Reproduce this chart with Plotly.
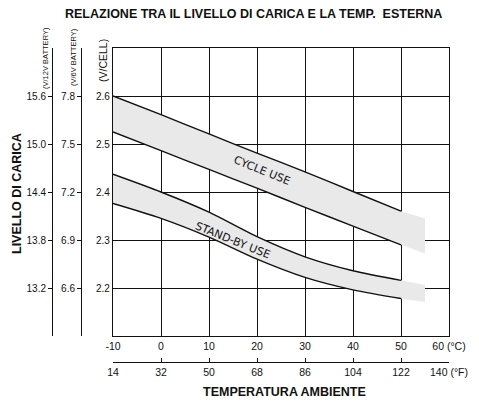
import plotly.graph_objects as go

# ---- data ----
temps_c = [-10, 0, 10, 20, 30, 40, 50, 55]
cycle_upper = [2.600, 2.561, 2.521, 2.481, 2.442, 2.401, 2.360, 2.345]
cycle_lower = [2.525, 2.486, 2.447, 2.408, 2.368, 2.329, 2.290, 2.272]
standby_upper = [2.437, 2.400, 2.358, 2.307, 2.265, 2.236, 2.216, 2.206]
standby_lower = [2.376, 2.345, 2.306, 2.260, 2.222, 2.196, 2.178, 2.171]

c_ticks = [-10, 0, 10, 20, 30, 40, 50, 60]
c_ticktext = ["-10", "0", "10", "20", "30", "40", "50", "60 (°C)"]
f_ticks = [14, 32, 50, 68, 86, 104, 122, 140]
f_ticktext = ["14", "32", "50", "68", "86", "104", "122", "140 (°F)"]
cell_ticks = [2.2, 2.3, 2.4, 2.5, 2.6]
cell_ticktext = ["2.2", "2.3", "2.4", "2.5", "2.6"]
v6_ticks = [6.6, 6.9, 7.2, 7.5, 7.8]
v6_ticktext = ["6.6", "6.9", "7.2", "7.5", "7.8"]
v12_ticks = [13.2, 13.8, 14.4, 15.0, 15.6]
v12_ticktext = ["13.2", "13.8", "14.4", "15.0", "15.6"]

SANS = "Liberation Sans, Arial, sans-serif"
BAND_FONT = "DejaVu Sans, sans-serif"
BAND_FILL = "#e9e9e9"
INK = "#111111"

fig = go.Figure()

def add_band(upper, lower, n_up, n_low):
    fig.add_trace(go.Scatter(x=temps_c, y=lower, mode="lines", line=dict(width=0, shape="spline", smoothing=0.8),
                             hoverinfo="skip", showlegend=False))
    fig.add_trace(go.Scatter(x=temps_c, y=upper, mode="lines", fill="tonexty", fillcolor=BAND_FILL,
                             line=dict(width=0, shape="spline", smoothing=0.8),
                             hoverinfo="skip", showlegend=False))
    return (upper[:n_up], lower[:n_low])

edges = [add_band(cycle_upper, cycle_lower, 7, 7), add_band(standby_upper, standby_lower, 7, 7)]
for up, low in edges:
    for ys in (up, low):
        fig.add_trace(go.Scatter(x=temps_c[:len(ys)], y=ys, mode="lines",
                                 line=dict(color=INK, width=1.4, shape="spline", smoothing=0.8),
                                 hoverinfo="skip", showlegend=False))

# invisible traces binding the auxiliary scales
fig.add_trace(go.Scatter(x=f_ticks, y=[None] * len(f_ticks), xaxis="x2", yaxis="y4", mode="lines",
                         showlegend=False, hoverinfo="skip"))
fig.add_trace(go.Scatter(x=[None] * len(v12_ticks), y=v12_ticks, xaxis="x3", yaxis="y3", mode="lines",
                         showlegend=False, hoverinfo="skip"))
fig.add_trace(go.Scatter(x=[None] * len(v6_ticks), y=v6_ticks, xaxis="x4", yaxis="y2", mode="lines",
                         showlegend=False, hoverinfo="skip"))

# page body has an 8px margin -> figure is 8px smaller, reference coords shifted by 8
W, H = 471, 393
ML, MR, MT, MB = 32, 30, 40, 20
PW, PH = W - ML - MR, H - MT - MB
OFF = 8

def px(xr):  # reference pixel x -> paper
    return (xr - OFF - ML) / PW

def py(yr):  # reference pixel y -> paper
    return (H - MB - (yr - OFF)) / PH

tick_font = dict(family=SANS, size=10, color=INK)
bottom_font = dict(family=SANS, size=10.5, color=INK)
ydom = [py(336), 1]
xdom = [px(113), 1]

fig.update_layout(
    width=W, height=H,
    margin=dict(l=ML, r=MR, t=MT, b=MB),
    paper_bgcolor="white", plot_bgcolor="white",
    xaxis=dict(domain=xdom, range=[-10, 60], tickvals=c_ticks, ticktext=c_ticktext,
               showgrid=True, gridcolor=INK, gridwidth=1, showline=True, linecolor=INK,
               linewidth=1.2, mirror=True, ticks="", tickfont=bottom_font, zeroline=False),
    yaxis=dict(domain=ydom, range=[2.1, 2.7], tickvals=cell_ticks, ticktext=cell_ticktext,
               showgrid=True, gridcolor=INK, gridwidth=1, showline=True, linecolor=INK,
               linewidth=1.2, mirror=True, ticks="", tickfont=tick_font, zeroline=False),
    # Fahrenheit scale
    xaxis2=dict(domain=xdom, anchor="y4", range=[14, 140], tickvals=f_ticks, ticktext=f_ticktext,
                showgrid=False, showline=True, linecolor=INK, linewidth=1, ticks="inside",
                ticklen=4, tickcolor=INK, tickfont=bottom_font, zeroline=False),
    yaxis4=dict(domain=[py(362), py(362) + 0.002], anchor="x2", visible=False, range=[0, 1]),
    # 12V battery scale
    yaxis3=dict(domain=ydom, anchor="x3", range=[12.6, 16.2], tickvals=v12_ticks,
                ticktext=v12_ticktext, showgrid=False, showline=True, linecolor=INK, linewidth=1,
                ticks="outside", ticklen=4, tickcolor=INK, tickfont=tick_font, zeroline=False),
    xaxis3=dict(domain=[px(53), px(53) + 0.002], anchor="y3", visible=False, range=[0, 1]),
    # 6V battery scale
    yaxis2=dict(domain=ydom, anchor="x4", range=[6.3, 8.1], tickvals=v6_ticks,
                ticktext=v6_ticktext, showgrid=False, showline=True, linecolor=INK, linewidth=1,
                ticks="outside", ticklen=4, tickcolor=INK, tickfont=tick_font, zeroline=False),
    xaxis4=dict(domain=[px(82), px(82) + 0.002], anchor="y2", visible=False, range=[0, 1]),
)

def ann(text, x, y, size, bold=False, angle=0, family=SANS, xref="paper", yref="paper"):
    fig.add_annotation(text=f"<b>{text}</b>" if bold else text, x=x, y=y, xref=xref, yref=yref,
                       showarrow=False, textangle=angle, xanchor="center", yanchor="middle",
                       font=dict(family=family, size=size, color=INK))

ann("RELAZIONE TRA IL LIVELLO DI CARICA E LA TEMP.  ESTERNA", px(253), py(14), 12.5, bold=True)
ann("LIVELLO DI CARICA", px(17), py(194), 12.5, bold=True, angle=-90)
ann("TEMPERATURA AMBIENTE", px(284), py(392), 12.5, bold=True)
ann("(V/12V BATTERY)", px(45), py(58), 7.5, angle=-90)
ann("(V/6V BATTERY)", px(74), py(57), 7.5, angle=-90)
ann("(V/CELL)", px(103), py(61), 10.5, angle=-90)
ann("CYCLE USE", 21.0, 2.444, 11, angle=22, family=BAND_FONT, xref="x", yref="y")
ann("STAND-BY USE", 15.0, 2.300, 11, angle=22, family=BAND_FONT, xref="x", yref="y")

fig.write_html("out.html")
